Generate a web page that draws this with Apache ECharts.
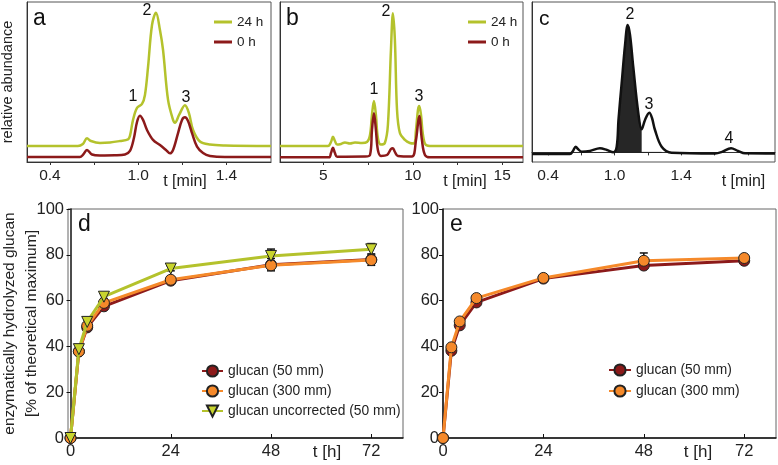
<!DOCTYPE html>
<html>
<head>
<meta charset="utf-8">
<script src="https://cdn.jsdelivr.net/npm/echarts@6/dist/echarts.min.js"></script>
<style>
html,body{margin:0;padding:0;background:#fff;}
#chart{width:778px;height:465px;}
</style>
</head>
<body>
<div id="chart"></div>
<script>
// ---------- Panel a: chromatogram (t [min], relative abundance) ----------
const a24h = [[0.244,10],[0.590,10],[0.624,11.3],[0.652,14.8],[0.679,13.1],[0.740,11.9],[0.808,12.2],[0.876,13.1],[0.931,14.1],[0.944,16.3],[0.965,26.3],[0.992,33.8],[1.026,36.3],[1.046,41.9],[1.067,59.4],[1.094,85.6],[1.121,93.3],[1.148,82.5],[1.169,70],[1.203,38.8],[1.237,26.3],[1.250,24.6],[1.278,29.4],[1.318,35.5],[1.345,30.6],[1.373,20],[1.420,12.8],[1.488,10.9],[1.590,10.3],[1.903,10.0]];
const a0h = [[0.244,3.1],[0.604,3.1],[0.624,4.4],[0.652,7.5],[0.686,4.7],[0.740,4.1],[0.842,4.2],[0.910,4.7],[0.944,6.9],[0.971,15],[0.992,25],[1.012,28.9],[1.033,26.3],[1.060,20],[1.101,13.8],[1.148,10.6],[1.189,7.5],[1.216,5.4],[1.237,7.5],[1.271,18.1],[1.298,26.3],[1.318,27.9],[1.339,25.6],[1.366,18.1],[1.400,9.6],[1.441,5.6],[1.488,3.8],[1.590,3.1],[1.903,3.1]];
const aTicks = [0.4,0.7,1.0,1.3,1.6];
const aLabelPos = [0.4,1.0,1.6];
const aLabels = ['0.4','1.0','1.4'];

// ---------- Panel b: chromatogram ----------
const b24h = [[2.58,10],[5.26,10],[5.43,12.5],[5.54,15.8],[5.65,13.1],[5.77,10.9],[5.99,11.3],[6.21,12.2],[6.49,11.6],[6.77,12.2],[7.16,11.9],[7.44,12.5],[7.61,16.9],[7.72,29.4],[7.83,38.1],[7.94,29.4],[8.05,15],[8.22,10.9],[8.44,11.9],[8.61,23.1],[8.78,70],[8.89,92.9],[9.00,76.3],[9.12,32.5],[9.28,18.1],[9.56,13.8],[9.84,11.9],[10.07,11.6],[10.18,20],[10.29,32.5],[10.36,35],[10.46,29.4],[10.57,16.9],[10.74,10.6],[11.07,10],[16.16,10]];
const b0h = [[2.58,2.9],[5.32,2.9],[5.43,5.6],[5.54,8.9],[5.65,5.6],[5.77,3.3],[7.33,3.4],[7.61,4.4],[7.72,20],[7.83,30.4],[7.94,20],[8.05,7.5],[8.22,3.8],[8.56,4.4],[8.78,8.1],[8.89,8.6],[9.00,6.3],[9.17,3.8],[9.95,3.4],[10.18,13.8],[10.36,28.8],[10.51,13.8],[10.68,4.4],[10.96,2.9],[16.16,2.9]];
const bTicks = [5,7.5,10,12.5,15];
const bLabelPos = [5,10,15];
const bLabels = ['5','10','15'];

// ---------- Panel c: chromatogram with integrated peak ----------
const cTrace = [[0.256,-1.0],[0.598,-1.0],[0.625,0.9],[0.650,3.6],[0.670,2.1],[0.704,0.4],[0.778,0.9],[0.868,2.6],[0.931,1.5],[0.988,0.1],[1.019,3.6],[1.035,20.3],[1.064,43.4],[1.094,67.1],[1.118,79.6],[1.139,73.4],[1.168,53.6],[1.214,24.4],[1.244,14.4],[1.274,20.3],[1.313,24.8],[1.337,21.5],[1.364,14],[1.424,3.6],[1.514,-0.2],[1.905,-0.7],[1.968,0.3],[2.049,2.6],[2.112,0.9],[2.175,-0.6],[2.445,-0.7]];
const cPeakFill = [[0.988,0.1],[1.019,3.6],[1.035,20.3],[1.064,43.4],[1.094,67.1],[1.118,79.6],[1.139,73.4],[1.168,53.6],[1.214,24.4],[1.244,14.4]];
const cBaseline = [[1.010,0],[1.424,0]];
const cTicks = [0.4,0.7,1.0,1.3,1.6,1.9,2.2];
const cLabelPos = [0.4,1.0,1.6];
const cLabels = ['0.4','1.0','1.4'];

// ---------- Panels d and e: hydrolysis kinetics ----------
const timesH = [0,2,4,8,24,48,72];
const hTicks = [0,24,48,72];
const dGlucan50 = [0,37.8,48.3,57.5,68.7,75.7,77.9];
const dGlucan300 = [0,37.8,49.0,59.0,69.1,75.4,77.7];
const dUncorr50 = [0,38.8,50.7,61.7,74.0,79.5,82.4];
const dErr50 = [0,0.5,0.8,0.8,1.0,2.7,2.5];
const dErr300 = [0,0.5,0.8,0.8,0.8,1.2,1.2];
const dErrUnc = [0,0.5,0.8,0.8,1.0,3.0,2.5];
const eGlucan50 = [0,38.1,49.2,59.2,69.6,75.3,77.4];
const eGlucan300 = [0,39.6,50.9,61.1,69.9,77.4,78.6];
const eErr50 = [0,0.5,0.8,0.8,0.6,1.0,0.8];
const eErr300 = [0,0.5,0.8,0.8,0.6,3.4,0.8];

const FONT = 'Liberation Sans, Arial, Helvetica, sans-serif';
const C_GREEN = '#b4c22c';
const C_RED = '#8c1a1a';
const C_ORANGE = '#f5892a';
const C_TRI = '#c8d42e';

function pairs(xs, ys){ return xs.map((x,i)=>[x, ys[i]]); }
function triples(xs, ys, es){ return xs.map((x,i)=>[x, ys[i], es[i]]); }
function labelFmt(pos, labs){
  return function(v){ const i = pos.findIndex(p=>Math.abs(p-v)<1e-6); return i>=0 ? labs[i] : ''; };
}
function errRender(params, api){
  const x = api.value(0), y = api.value(1), e = api.value(2);
  const t = api.coord([x, y+e]), b = api.coord([x, y-e]);
  const w = 4;
  const st = {stroke:'#111', lineWidth:1.5};
  return {type:'group', children:[
    {type:'line', shape:{x1:t[0],y1:t[1],x2:b[0],y2:b[1]}, style:st},
    {type:'line', shape:{x1:t[0]-w,y1:t[1],x2:t[0]+w,y2:t[1]}, style:st},
    {type:'line', shape:{x1:b[0]-w,y1:b[1],x2:b[0]+w,y2:b[1]}, style:st}
  ]};
}

const chromX = (gi, min, max, ticks, lpos, labs, padLeft) => ({
  type:'value', gridIndex:gi, min:min, max:max,
  axisLine:{lineStyle:{color:'#333', width:1}},
  axisTick:{show:true, customValues:ticks, length:3, lineStyle:{color:'#333'}},
  axisLabel:{customValues:lpos, formatter:labelFmt(lpos, labs), fontSize:15.5, color:'#222', fontFamily:FONT, margin:6},
  splitLine:{show:false},
  name:'t [min]', nameLocation:'middle', nameGap:12, nameMoveOverlap:false,
  nameTextStyle:{fontSize:16, color:'#222', fontFamily:FONT, padding:[0,0,0,padLeft]}
});
const chromY = (gi, min, max, name) => ({
  type:'value', gridIndex:gi, min:min, max:max,
  axisLine:{show:true, lineStyle:{color:'#333', width:1}},
  axisTick:{show:false}, axisLabel:{show:false}, splitLine:{show:false},
  name:name||'', nameLocation:'middle', nameRotate:90, nameGap:12, nameMoveOverlap:false,
  nameTextStyle:{fontSize:14.5, color:'#222', fontFamily:FONT}
});
const kinX = (gi, min, padLeft) => ({
  type:'value', gridIndex:gi, min:min, max:79.6,
  axisLine:{lineStyle:{color:'#111', width:1.5}},
  axisTick:{show:true, customValues:hTicks, inside:true, length:4, lineStyle:{color:'#111'}},
  axisLabel:{customValues:hTicks, fontSize:16.5, color:'#222', fontFamily:FONT, margin:5},
  splitLine:{show:false},
  name:'t [h]', nameLocation:'middle', nameGap:6, nameMoveOverlap:false,
  nameTextStyle:{fontSize:17, color:'#222', fontFamily:FONT, padding:[0,0,0,padLeft]}
});
const kinY = (gi, name) => ({
  type:'value', gridIndex:gi, min:0, max:100, interval:20,
  axisLine:{show:true, lineStyle:{color:'#111', width:1.5}},
  axisTick:{show:true, length:4, lineStyle:{color:'#111'}},
  axisLabel:{fontSize:16.5, color:'#222', fontFamily:FONT, margin:4},
  splitLine:{show:false},
  name:name||'', nameLocation:'middle', nameRotate:90, nameGap:25, nameMoveOverlap:false,
  nameTextStyle:{fontSize:15.5, color:'#222', fontFamily:FONT, lineHeight:22}
});

const chromLine = (name, data, color, xi) => ({
  name:name, type:'line', xAxisIndex:xi, yAxisIndex:xi, data:data,
  symbol:'none', smooth:0.35, lineStyle:{color:color, width:2.5}, itemStyle:{color:color}, z:3
});
const kinLine = (name, data, color, fill, xi, sym, z) => ({
  name:name, type:'line', xAxisIndex:xi, yAxisIndex:xi, data:data,
  symbol: sym==='tri' ? 'triangle' : 'circle', symbolRotate: sym==='tri' ? 180 : 0,
  symbolSize: 11, showAllSymbol:true,
  lineStyle:{color:color, width:3}, itemStyle:{color:fill, borderColor:'#222', borderWidth:1}, z:z
});
const errSeries = (data, xi) => ({
  type:'custom', xAxisIndex:xi, yAxisIndex:xi, data:data, renderItem:errRender, z:1, silent:true
});
const G = (l,t,w,h,bc) => ({left:l, top:t, width:w, height:h, show:true, borderColor:bc, borderWidth:1, containLabel:false, outerBoundsMode:'none'});
const chromLegend = (left) => ({data:['24 h','0 h'], orient:'vertical', left:left, top:14, padding:0,
  icon:'rect', itemWidth:18, itemHeight:3, itemGap:4,
  textStyle:{fontSize:13.5, color:'#222', fontFamily:FONT, lineHeight:16}});
const kinLegendText = {fontSize:13.8, color:'#222', fontFamily:FONT};

const option = {
  backgroundColor:'#fff',
  animation:false,
  textStyle:{fontFamily:FONT},
  grid:[
    G(27,2,244,160,'#555'),
    G(280,2,243,160,'#555'),
    G(532,2,243,160,'#555'),
    G(68,209,335,229,'#666'),
    G(443,209,333,229,'#666')
  ],
  xAxis:[
    chromX(0, 0.244, 1.903, aTicks, aLabelPos, aLabels, 72),
    chromX(1, 2.58, 16.16, bTicks, bLabelPos, bLabels, 127),
    chromX(2, 0.256, 2.445, cTicks, cLabelPos, cLabels, 180),
    kinX(3, -0.6, 183),
    kinX(4, 0, 177)
  ],
  yAxis:[
    chromY(0, 0, 100, 'relative abundance'),
    chromY(1, 0, 100),
    chromY(2, -6, 94),
    kinY(3, 'enzymatically hydrolyzed glucan\n[% of theoretical maximum]'),
    kinY(4)
  ],
  legend:[
    chromLegend(214),
    chromLegend(468),
    {data:['glucan (50 mm)','glucan (300 mm)','glucan uncorrected (50 mm)'], orient:'vertical', left:201, top:364, padding:0,
     itemWidth:21, itemHeight:14, itemGap:6, textStyle:kinLegendText},
    {data:['glucan (50 mm)','glucan (300 mm)'], orient:'vertical', left:608, top:363, padding:0,
     itemWidth:22, itemHeight:14, itemGap:7, textStyle:kinLegendText}
  ],
  series:[
    chromLine('24 h', a24h, C_GREEN, 0),
    chromLine('0 h', a0h, C_RED, 0),
    chromLine('24 h', b24h, C_GREEN, 1),
    chromLine('0 h', b0h, C_RED, 1),
    {type:'line', xAxisIndex:2, yAxisIndex:2, data:cPeakFill, symbol:'none', smooth:0.35,
     lineStyle:{width:0}, areaStyle:{color:'#262626', opacity:1}, z:2, silent:true},
    {type:'line', xAxisIndex:2, yAxisIndex:2, data:cBaseline, symbol:'none',
     lineStyle:{color:'#222', width:1}, z:2, silent:true},
    {type:'line', xAxisIndex:2, yAxisIndex:2, data:cTrace, symbol:'none', smooth:0.35,
     lineStyle:{color:'#111', width:2.5}, z:3},
    errSeries(triples(timesH, dGlucan50, dErr50), 3),
    errSeries(triples(timesH, dGlucan300, dErr300), 3),
    errSeries(triples(timesH, dUncorr50, dErrUnc), 3),
    kinLine('glucan (50 mm)', pairs(timesH, dGlucan50), C_RED, C_RED, 3, 'circle', 3),
    kinLine('glucan (300 mm)', pairs(timesH, dGlucan300), C_ORANGE, C_ORANGE, 3, 'circle', 4),
    kinLine('glucan uncorrected (50 mm)', pairs(timesH, dUncorr50), C_GREEN, C_TRI, 3, 'tri', 5),
    errSeries(triples(timesH, eGlucan50, eErr50), 4),
    errSeries(triples(timesH, eGlucan300, eErr300), 4),
    kinLine('glucan (50 mm)', pairs(timesH, eGlucan50), C_RED, C_RED, 4, 'circle', 3),
    kinLine('glucan (300 mm)', pairs(timesH, eGlucan300), C_ORANGE, C_ORANGE, 4, 'circle', 4)
  ],
  graphic:[
    {type:'text', left:33, top:7, style:{text:'a', fontSize:23, fill:'#111', fontFamily:FONT}},
    {type:'text', left:286, top:7, style:{text:'b', fontSize:23, fill:'#111', fontFamily:FONT}},
    {type:'text', left:539, top:9, style:{text:'c', fontSize:21, fill:'#111', fontFamily:FONT}},
    {type:'text', left:78, top:213, style:{text:'d', fontSize:23, fill:'#111', fontFamily:FONT}},
    {type:'text', left:450, top:213, style:{text:'e', fontSize:23, fill:'#111', fontFamily:FONT}},
    {type:'text', x:133, y:97, style:{text:'1', fontSize:16, fill:'#111', fontFamily:FONT, align:'center', verticalAlign:'middle'}},
    {type:'text', x:147, y:11, style:{text:'2', fontSize:16, fill:'#111', fontFamily:FONT, align:'center', verticalAlign:'middle'}},
    {type:'text', x:186, y:98, style:{text:'3', fontSize:16, fill:'#111', fontFamily:FONT, align:'center', verticalAlign:'middle'}},
    {type:'text', x:374, y:90, style:{text:'1', fontSize:16, fill:'#111', fontFamily:FONT, align:'center', verticalAlign:'middle'}},
    {type:'text', x:386, y:12, style:{text:'2', fontSize:16, fill:'#111', fontFamily:FONT, align:'center', verticalAlign:'middle'}},
    {type:'text', x:419, y:97, style:{text:'3', fontSize:16, fill:'#111', fontFamily:FONT, align:'center', verticalAlign:'middle'}},
    {type:'text', x:630, y:15, style:{text:'2', fontSize:16, fill:'#111', fontFamily:FONT, align:'center', verticalAlign:'middle'}},
    {type:'text', x:649, y:105, style:{text:'3', fontSize:16, fill:'#111', fontFamily:FONT, align:'center', verticalAlign:'middle'}},
    {type:'text', x:729, y:139, style:{text:'4', fontSize:16, fill:'#111', fontFamily:FONT, align:'center', verticalAlign:'middle'}}
  ]
};

const chart = echarts.init(document.getElementById('chart'), null, {renderer:'canvas'});
chart.setOption(option);
</script>
</body>
</html>
